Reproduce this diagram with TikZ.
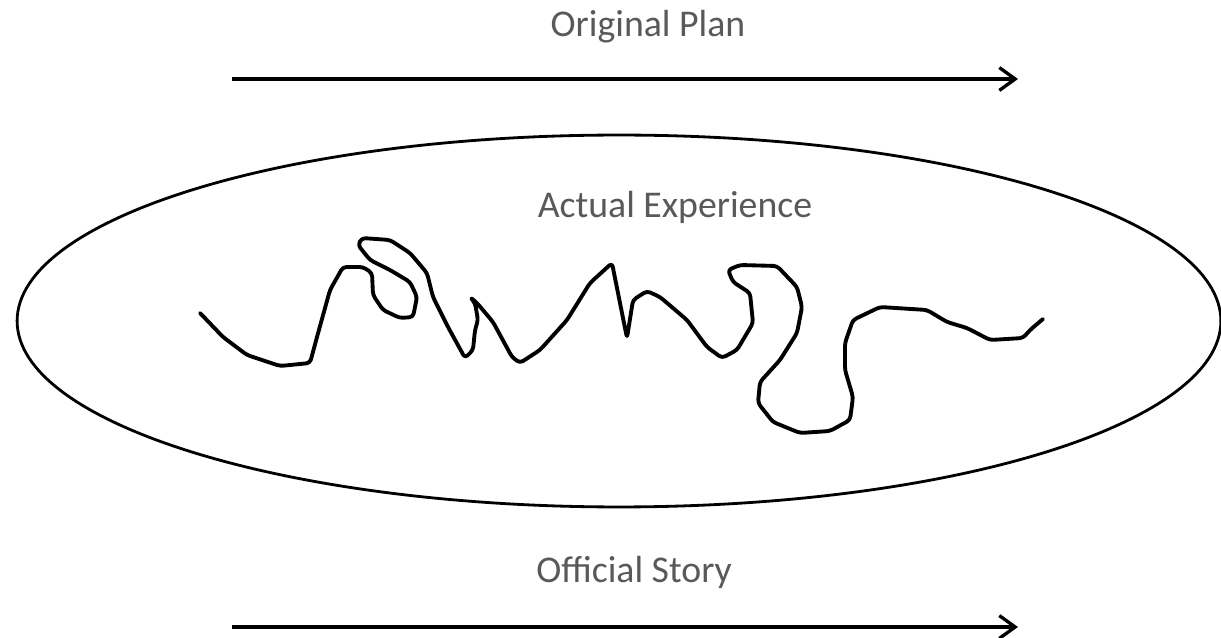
\documentclass[tikz,border=0pt]{standalone}
\usepackage{fontspec}
\usepackage{tikz}
\usetikzlibrary{arrows.meta,positioning,shapes.geometric}
\newfontfamily\planfont{Carlito}
\definecolor{textgray}{HTML}{595959}

\begin{document}
\begin{tikzpicture}
[x=0.02cm, y=-0.02cm,
% STYLES
% The caption style is used for the three texts
caption/.style={font=\planfont\fontsize{21.5}{24}\selectfont, text=textgray, inner sep=0pt},
% The timeline style is used for the two long arrows
timeline/.style={-{Straight Barb[length=9pt,width=13pt,line width=1.9pt]}, line width=1.9pt},
% The bubble style is used for the big ellipse
bubble/.style={ellipse, draw, line width=1.6pt, inner sep=0pt, minimum width=24.08cm, minimum height=7.44cm},
% The path style is used for the wiggly line
wiggle/.style={line width=2.2pt, line join=round, line cap=round, rounded corners=2pt}]

\useasboundingbox (0,0) rectangle (1221,638);

% Draw texts
\node [caption] (plan) at (648,27) {Original Plan};
\node [bubble] (experience) at (619,321) {};
\node [caption] (actual) at (675,207) {Actual Experience};
\node [caption] (story) at (634,572) {Official Story};

% arrow ends
\coordinate (plan-start) at (232,79);
\coordinate (plan-end) at (1018,79);
\coordinate (story-start) at (232,627);
\coordinate (story-end) at (1018,627);

%%%%%%%%%%%%%%%
% the actual experience
\draw [wiggle] (200,313) -- (223,337) -- (247,355) -- (280,366) -- (310,363)
  -- (317,337) -- (330,290) -- (343,267) -- (363,267) -- (372,273)
  -- (373,295) -- (383,310) -- (400,318) -- (413,317) -- (417,297)
  -- (410,282) -- (390,270) -- (370,260) -- (358,245) -- (362,238)
  -- (390,240) -- (410,253) -- (427,273) -- (433,297) -- (448,327)
  -- (465,358) -- (473,350) -- (475,330) -- (478,320) -- (475,303)
  -- (470,297) -- (477,303) -- (493,322) -- (512,357) -- (520,363)
  -- (540,350) -- (567,320) -- (590,283) -- (612,263) -- (627,338)
  -- (633,300) -- (647,291) -- (660,297) -- (687,320) -- (707,347)
  -- (722,358) -- (737,350) -- (753,323) -- (750,293) -- (733,282)
  -- (728,270) -- (740,265) -- (777,266) -- (797,287) -- (802,307)
  -- (797,333) -- (780,360) -- (760,382) -- (758,403) -- (773,422)
  -- (800,433) -- (830,431) -- (850,420) -- (853,397) -- (845,370)
  -- (845,343) -- (853,320) -- (880,307) -- (927,310) -- (947,322)
  -- (967,328) -- (990,340) -- (1023,338) -- (1030,330) -- (1043,319);
%%%%%%%%%%%%%%%

% Draw the arrows
\draw [timeline] (plan-start) -- (plan-end);
\draw [timeline] (story-start) -- (story-end);

\end{tikzpicture}
\end{document}
